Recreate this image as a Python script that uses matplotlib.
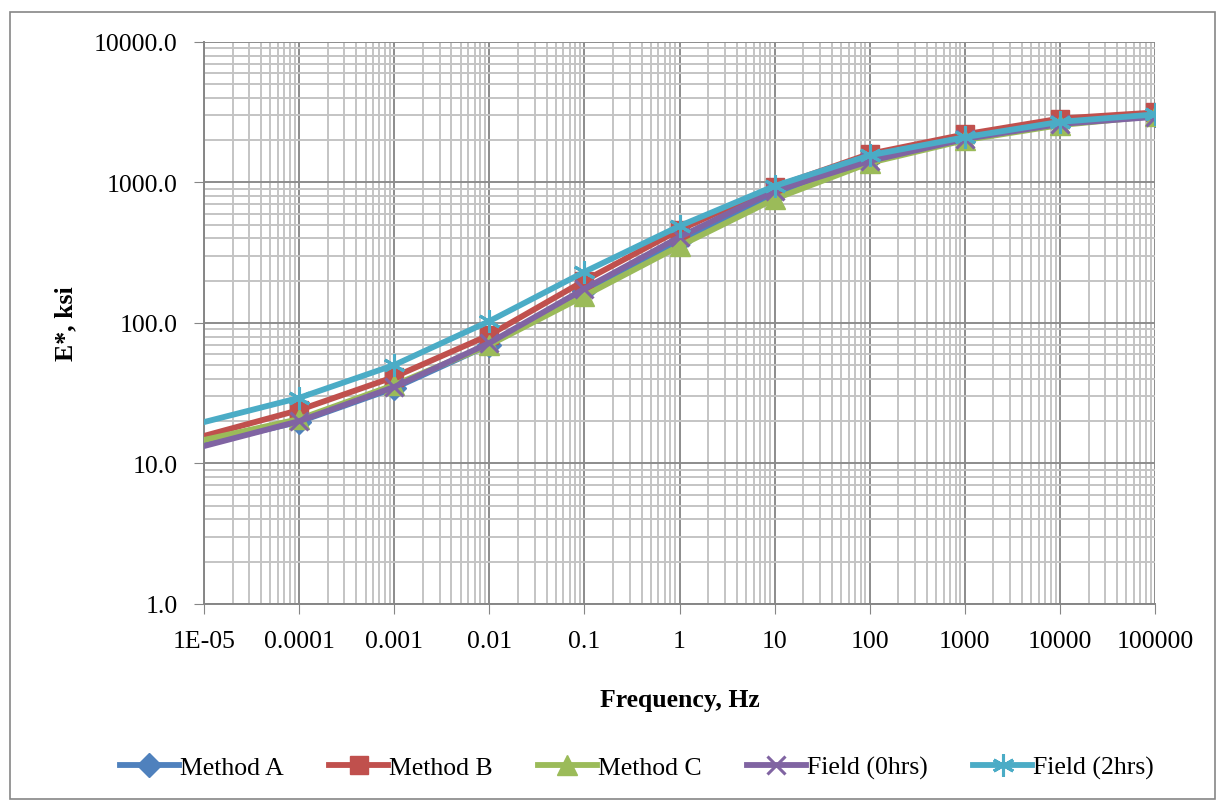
import matplotlib.pyplot as plt
from matplotlib.ticker import LogLocator, FuncFormatter, NullFormatter

plt.rcParams['font.family'] = ['Liberation Serif', 'DejaVu Serif']

# frequency (Hz) and |E*| (ksi)
freq = [1e-5, 1e-4, 1e-3, 1e-2, 1e-1, 1, 10, 100, 1000, 1e4, 1e5]
method_a = [13.8, 19.8, 34.4, 70, 169, 384, 828, 1470, 2080, 2650, 3000]
method_b = [15.7, 24.0, 41.3, 82, 200, 460, 929, 1600, 2200, 2850, 3150]
method_c = [14.7, 20.7, 36.2, 69.7, 156, 353, 763, 1380, 2000, 2560, 2974]
field_0 = [13.3, 20.0, 35.0, 72, 175, 409, 871, 1422, 2040, 2608, 2930]
field_2 = [19.7, 29.3, 50.2, 103, 231, 490, 944, 1560, 2100, 2700, 3050]

series = [
    ('Method A', method_a, '#4F81BD', 'D', 12),
    ('Method B', method_b, '#C0504D', 's', 13),
    ('Method C', method_c, '#9BBB59', '^', 14),
    ('Field (0hrs)', field_0, '#8064A2', 'x', 13),
    ('Field (2hrs)', field_2, '#4BACC6', (6, 2, 0), 16),
]

fig = plt.figure(figsize=(12.25, 8.03), dpi=100)
ax = fig.add_axes([0.1665, 0.2466, 0.7764, 0.6999])

for name, vals, col, mk, ms in series:
    ax.plot(freq, vals, color=col, lw=4.2, marker=mk, markersize=ms,
            markeredgewidth=2.2 if mk in ('x', (6, 2, 0)) else 1,
            markevery=slice(1, None), label=name, zorder=3)

ax.set_xscale('log')
ax.set_yscale('log')
ax.set_xlim(1e-5, 1e5)
ax.set_ylim(1, 10000)

ax.xaxis.set_major_locator(LogLocator(base=10, numticks=20))
ax.xaxis.set_minor_locator(LogLocator(base=10, subs=range(2, 10), numticks=20))
ax.yaxis.set_major_locator(LogLocator(base=10, numticks=20))
ax.yaxis.set_minor_locator(LogLocator(base=10, subs=range(2, 10), numticks=20))
ax.xaxis.set_minor_formatter(NullFormatter())
ax.yaxis.set_minor_formatter(NullFormatter())

xlabels = ['1E-05', '0.0001', '0.001', '0.01', '0.1', '1', '10', '100', '1000', '10000', '100000']
ax.set_xticks(freq)
ax.set_xticklabels(xlabels)
ax.yaxis.set_major_formatter(FuncFormatter(lambda v, p: f'{v:.1f}'))

ax.grid(which='major', color='#8c8c8c', lw=1.4)
ax.grid(which='minor', color='#c4c4c4', lw=1.4)
ax.set_axisbelow(True)

for s in ['top', 'right']:
    ax.spines[s].set_visible(False)
for s in ['left', 'bottom']:
    ax.spines[s].set_color('#868686')
    ax.spines[s].set_linewidth(1.4)

ax.tick_params(which='major', direction='out', length=7, color='#868686', labelsize=18.5, pad=12)
ax.tick_params(which='minor', length=0)

ax.set_xlabel('Frequency, Hz', fontsize=18.5, fontweight='bold', labelpad=26)
ax.set_ylabel('E*, ksi', fontsize=18.5, fontweight='bold', labelpad=12)

fig.legend(loc='center', bbox_to_anchor=(0.52, 0.043), ncol=5, frameon=False,
           fontsize=18.5, handlelength=2.3, handletextpad=0.05, columnspacing=1.75)

border = plt.Rectangle((0.008, 0.004), 0.984, 0.98, transform=fig.transFigure,
                       fill=False, edgecolor='#868686', lw=1.2)
fig.patches.append(border)

fig.savefig('out.png', dpi=100)
